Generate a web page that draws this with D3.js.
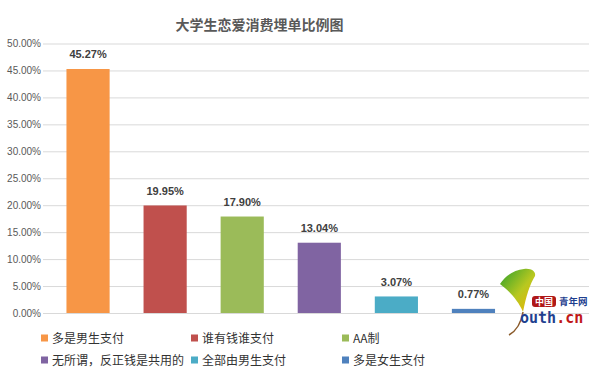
<!DOCTYPE html>
<html>
<head>
<meta charset="utf-8">
<script src="https://cdn.jsdelivr.net/npm/d3@7"></script>
<style>
  body { margin: 0; background: #fff; }
  text { font-family: "Liberation Sans", Arial, "Noto Sans CJK SC", sans-serif; }
</style>
</head>
<body>
<div id="chart"></div>
<script>
const categories = ['多是男生支付', '谁有钱谁支付', 'AA制', '无所谓，反正钱是共用的', '全部由男生支付', '多是女生支付'];
const values = [45.27, 19.95, 17.90, 13.04, 3.07, 0.77];
const colors = ['#F79646', '#C0504D', '#9BBB59', '#8064A2', '#4BACC6', '#4F81BD'];
const yTicks = [0, 5, 10, 15, 20, 25, 30, 35, 40, 45, 50];

const W = 600, H = 376;
const svg = d3.select('#chart').append('svg')
  .attr('width', W).attr('height', H);

const x = d3.scaleBand().domain(categories).range([49.5, 512])
  .paddingInner(0.44).paddingOuter(0.22);
const y = d3.scaleLinear().domain([0, 50]).range([313, 43.5]);

// title
svg.append('text')
  .attr('x', 259.5).attr('y', 30)
  .attr('text-anchor', 'middle')
  .attr('font-size', 14).attr('font-weight', 'bold')
  .attr('fill', '#595959')
  .style('font-family', '"Noto Sans CJK SC", sans-serif')
  .text('大学生恋爱消费埋单比例图');

// gridlines + y labels
const yAxis = svg.append('g')
  .attr('transform', 'translate(43,0)')
  .call(d3.axisLeft(y).tickValues(yTicks).tickSize(-546)
    .tickFormat(d => d.toFixed(2) + '%'));
yAxis.select('.domain').remove();
yAxis.selectAll('.tick line').attr('stroke', '#d9d9d9');
yAxis.selectAll('.tick text')
  .attr('x', -2)
  .attr('font-size', 10).attr('fill', '#595959')
  .style('font-family', '"Liberation Sans", Arial, sans-serif');

// bars
svg.append('g').selectAll('rect').data(values).join('rect')
  .attr('x', (d, i) => x(categories[i]))
  .attr('y', d => y(d))
  .attr('width', x.bandwidth())
  .attr('height', d => y(0) - y(d))
  .attr('fill', (d, i) => colors[i]);

// value labels
svg.append('g').selectAll('text').data(values).join('text')
  .attr('x', (d, i) => x(categories[i]) + x.bandwidth() / 2)
  .attr('y', d => y(d) - 10.5)
  .attr('text-anchor', 'middle')
  .attr('font-size', 11).attr('font-weight', 'bold')
  .attr('fill', '#404040')
  .text(d => d.toFixed(2) + '%');

// legend
const legendCols = [41, 191, 342];
const legendRows = [338, 360];
const legend = svg.append('g').selectAll('g').data(categories).join('g')
  .attr('transform', (d, i) => `translate(${legendCols[i % 3]},${legendRows[Math.floor(i / 3)]})`);
legend.append('rect')
  .attr('x', 0).attr('y', -3.5).attr('width', 7).attr('height', 7)
  .attr('fill', (d, i) => colors[i]);
legend.append('text')
  .attr('x', 11).attr('y', 4.5)
  .attr('font-size', 12).attr('fill', '#333')
  .style('font-family', '"Noto Sans CJK SC", sans-serif')
  .text(d => d);

// watermark logo (youth.cn)
const logo = svg.append('g');
const grad = svg.append('defs').append('linearGradient')
  .attr('id', 'leaf').attr('x1', 0).attr('y1', 0).attr('x2', 1).attr('y2', 1);
grad.append('stop').attr('offset', '0%').attr('stop-color', '#2ca02c');
grad.append('stop').attr('offset', '55%').attr('stop-color', '#b8c820');
grad.append('stop').attr('offset', '100%').attr('stop-color', '#f0b000');
logo.append('path')
  .attr('d', 'M523,312 C518,300 508,290 500,284 C505,276 514,270 524,269 C532,268 536,272 535,276 C530,284 526,296 523,312 Z')
  .attr('fill', 'url(#leaf)');
logo.append('path')
  .attr('d', 'M523,312 C521,324 516,331 509,335')
  .attr('fill', 'none').attr('stroke', '#8a5a2a').attr('stroke-width', 1.5);
logo.append('rect')
  .attr('x', 532).attr('y', 296).attr('width', 24).attr('height', 11).attr('rx', 3)
  .attr('fill', '#b01818');
logo.append('text')
  .attr('x', 544).attr('y', 305).attr('text-anchor', 'middle')
  .attr('font-size', 9).attr('font-weight', 'bold').attr('fill', '#fff')
  .style('font-family', '"Noto Sans CJK SC", sans-serif')
  .text('中国');
logo.append('text')
  .attr('x', 559).attr('y', 305).attr('font-size', 9.5).attr('font-weight', 'bold')
  .attr('fill', '#1f3f8f')
  .style('font-family', '"Noto Sans CJK SC", sans-serif')
  .text('青年网');
const url = logo.append('text')
  .attr('x', 520).attr('y', 323).attr('font-size', 15).attr('font-weight', 'bold')
  .style('font-family', '"DejaVu Sans Mono", monospace');
url.append('tspan').attr('fill', '#1f3f8f').text('outh');
url.append('tspan').attr('fill', '#c01818').text('.cn');
</script>
</body>
</html>
